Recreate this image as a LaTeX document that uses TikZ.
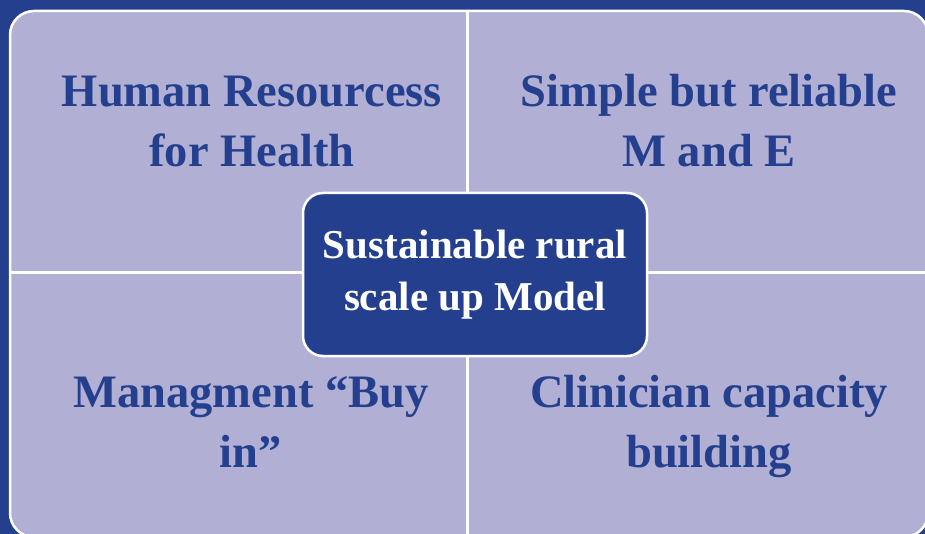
\documentclass[tikz,border=0pt]{standalone}
\usepackage{fontspec}
\setmainfont{Liberation Serif}
\usepackage{tikz}
\usetikzlibrary{positioning}
\definecolor{planblue}{RGB}{37, 63, 143}
\definecolor{planlilac}{RGB}{177, 176, 212}

\begin{document}
\begin{tikzpicture}[x=1pt, y=-1pt, every node/.style={align=center, font=\bfseries\fontsize{46.5}{60}\selectfont, text=planblue}]
  % dark page behind the panel
  \fill[planblue] (0,0) rectangle (925,534);
  \useasboundingbox (0,0) rectangle (925,534);
  \begin{scope}
    \clip (0,0) rectangle (925,534);
    \node[draw=white, line width=2.5pt, fill=planlilac, rounded corners=24pt, inner sep=0pt,
          minimum width=918pt, minimum height=526pt] (frame) at (469,274) {};
    \draw[white, line width=3pt] ([xshift=-2pt]frame.north) -- ([xshift=-2pt]frame.south);
    \draw[white, line width=3pt] ([yshift=1pt]frame.west) -- ([yshift=1pt]frame.east);
  \end{scope}
  % quadrant labels, placed on the baseline of their last line
  \node[anchor=base] (hrh) at (252,167) {Human Resourcess\\for Health};
  \node[anchor=base] (mande) at (709,167) {Simple but reliable\\M and E};
  \node[anchor=base] (buyin) at (251,467) {Managment “Buy\\in”};
  \node[anchor=base] (capacity) at (709,467) {Clinician capacity\\building};
  \node[draw=white, line width=2.5pt, fill=planblue, rounded corners=20pt, text=white,
        minimum width=344pt, minimum height=163pt,
        font=\bfseries\fontsize{41}{52}\selectfont] (model) at (475,274.5)
    {Sustainable rural\\scale up Model};
\end{tikzpicture}
\end{document}
